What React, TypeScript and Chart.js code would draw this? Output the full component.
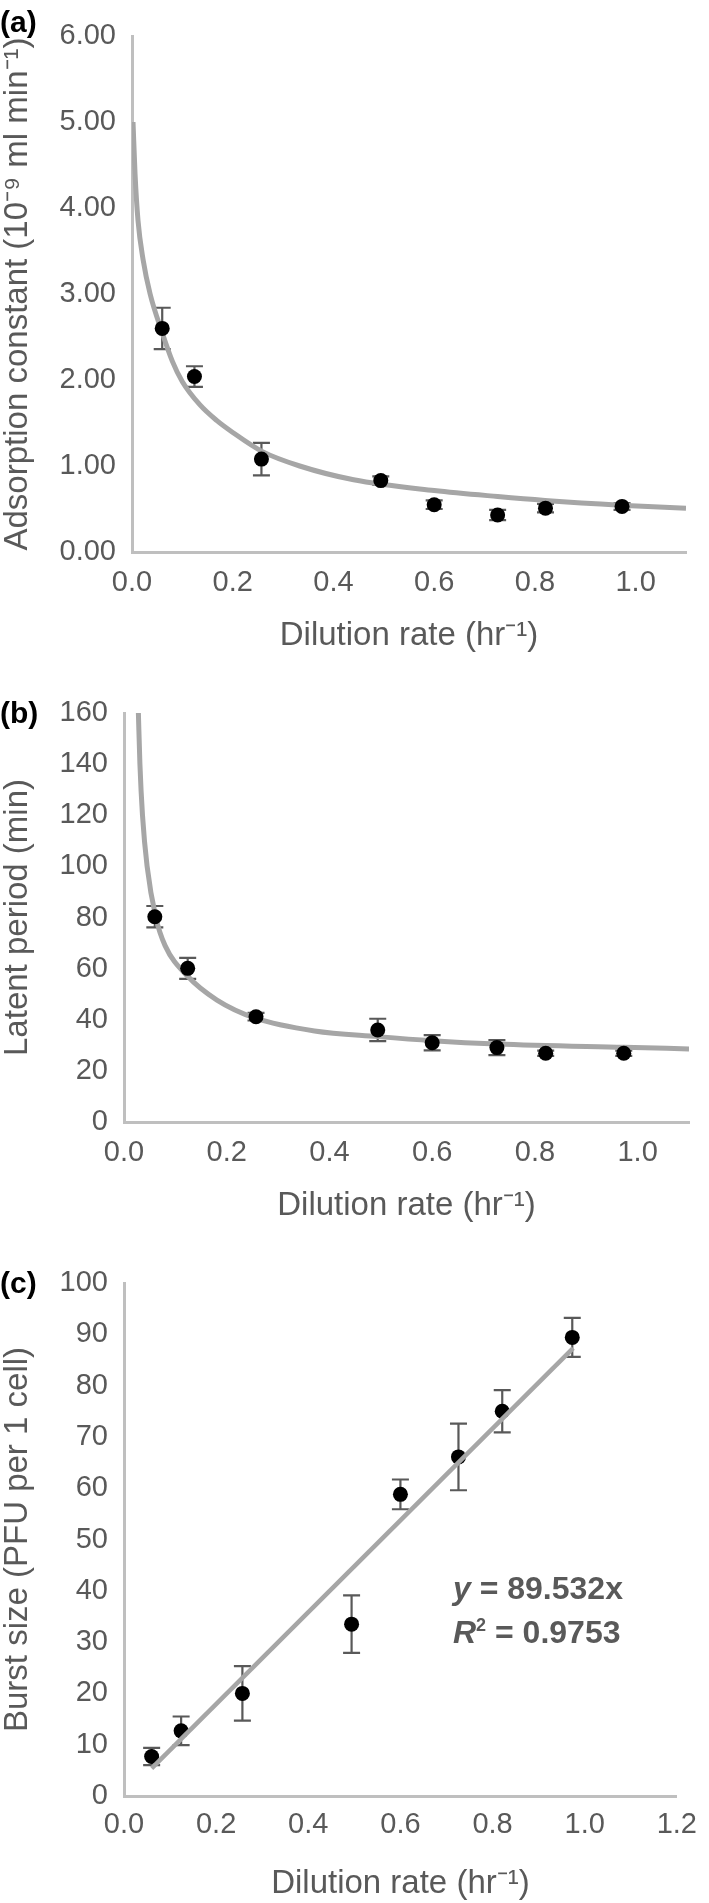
import React, { useEffect, useRef } from "react";
import { Chart, registerables } from "chart.js";

Chart.register(...registerables);

// ---------- data ----------
const dilution = [0.06, 0.124, 0.257, 0.494, 0.6, 0.726, 0.821, 0.973];

const adsorption = [2.6, 2.04, 1.08, 0.83, 0.55, 0.43, 0.51, 0.53];
const adsorptionErr = [0.24, 0.12, 0.19, 0.05, 0.05, 0.06, 0.05, 0.04];
const adsorptionFitX = [0.002, 0.006, 0.012, 0.022, 0.036, 0.06, 0.08, 0.1, 0.135, 0.168, 0.2, 0.258, 0.333, 0.44, 0.6, 0.726, 0.82, 0.97, 1.1];
const adsorptionFitY = [5.0, 4.4, 3.85, 3.4, 3.0, 2.55, 2.22, 1.98, 1.71, 1.53, 1.39, 1.17, 1.0, 0.84, 0.715, 0.645, 0.6, 0.545, 0.51];

const latent = [80.3, 60.1, 41.2, 36.0, 31.0, 29.1, 26.9, 26.9];
const latentErr = [4.2, 4.1, 1.5, 4.4, 3.0, 2.9, 1.0, 1.0];
const latentFitX = [0.028, 0.031, 0.036, 0.045, 0.062, 0.08, 0.124, 0.181, 0.256, 0.371, 0.494, 0.6, 0.726, 0.973, 1.1];
const latentFitY = [160, 140, 120, 100, 80, 69, 57, 47.7, 40.6, 35.6, 33.4, 31.8, 30.5, 29.2, 28.6];

const burst = [7.7, 12.7, 20.0, 33.5, 58.8, 66.1, 75.0, 89.4];
const burstErr = [1.7, 2.8, 5.3, 5.6, 2.9, 6.5, 4.1, 3.8];
const burstFitX = [0.06, 0.975];
const burstFitY = [5.4, 87.3];

const panelLabels = ["(a)", "(b)", "(c)"];
const xTitle = "Dilution rate (hr\u207B\u00B9)";
const yTitles = [
  "Adsorption constant (10\u207B\u2079 ml min\u207B\u00B9)",
  "Latent period (min)",
  "Burst size (PFU per 1 cell)",
];
const equationLine1 = "89.532x";
const equationLine2 = "0.9753";

// ---------- styling ----------
const FONT = "'Liberation Sans', Arial, Helvetica, sans-serif";
const TEXT = "#595959";
const AXIS = "#bfbfbf";
const CURVE = "#a6a6a6";

const zip = (xs: number[], ys: number[]) => xs.map((x, i) => ({ x, y: ys[i] }));

const errorBarPlugin = {
  id: "errorBars",
  beforeDatasetsDraw(chart: any, _args: any, opts: any) {
    if (!opts || !opts.errors) return;
    const { ctx } = chart;
    const xs = chart.scales.x;
    const ys = chart.scales.y;
    const ds = chart.data.datasets[opts.datasetIndex];
    ctx.save();
    ctx.strokeStyle = TEXT;
    ctx.lineWidth = 2.2;
    const cap = 8.5;
    ds.data.forEach((p: any, i: number) => {
      const e = opts.errors[i];
      const px = xs.getPixelForValue(p.x);
      const top = ys.getPixelForValue(p.y + e);
      const bot = ys.getPixelForValue(p.y - e);
      ctx.beginPath();
      ctx.moveTo(px, top);
      ctx.lineTo(px, bot);
      ctx.moveTo(px - cap, top);
      ctx.lineTo(px + cap, top);
      ctx.moveTo(px - cap, bot);
      ctx.lineTo(px + cap, bot);
      ctx.stroke();
    });
    ctx.restore();
  },
};

type PanelCfg = {
  height: number;
  padTop: number;
  padRight: number;
  yWidth: number;
  xHeight: number;
  xMax: number;
  yMax: number;
  yStep: number;
  yDecimals: number;
  xTickPad: number;
  yTitle: string;
  values: number[];
  errors: number[];
  fitX: number[];
  fitY: number[];
  smooth: boolean;
  lineOnTop: boolean;
};

function buildConfig(c: PanelCfg): any {
  return {
    type: "scatter",
    data: {
      datasets: [
        {
          label: "data",
          data: zip(dilution, c.values),
          pointRadius: 7.5,
          pointHoverRadius: 7.5,
          pointBackgroundColor: "#000000",
          pointBorderWidth: 0,
          showLine: false,
          order: c.lineOnTop ? 1 : 0,
        },
        {
          label: "fit",
          data: zip(c.fitX, c.fitY),
          showLine: true,
          borderColor: CURVE,
          borderWidth: c.smooth ? 5 : 4.5,
          pointRadius: 0,
          pointHoverRadius: 0,
          fill: false,
          cubicInterpolationMode: c.smooth ? "monotone" : "default",
          tension: 0,
          order: c.lineOnTop ? 0 : 1,
        },
      ],
    },
    options: {
      responsive: false,
      animation: false,
      events: [],
      layout: { padding: { top: c.padTop, left: 1, right: c.padRight, bottom: 0 } },
      plugins: {
        legend: { display: false },
        tooltip: { enabled: false },
        errorBars: { datasetIndex: 0, errors: c.errors },
      },
      scales: {
        x: {
          type: "linear",
          min: 0,
          max: c.xMax,
          grid: { display: false, drawTicks: false },
          border: { display: true, color: AXIS, width: 3 },
          ticks: {
            stepSize: 0.2,
            includeBounds: false,
            autoSkip: false,
            maxRotation: 0,
            padding: c.xTickPad,
            color: TEXT,
            font: { family: FONT, size: 29 },
            callback: (v: any) => Number(v).toFixed(1),
          },
          title: {
            display: true,
            text: xTitle,
            color: TEXT,
            font: { family: FONT, size: 33, lineHeight: 1 },
            padding: 0,
          },
          afterFit: (s: any) => {
            s.height = c.xHeight;
          },
        },
        y: {
          type: "linear",
          min: 0,
          max: c.yMax,
          grid: { display: false, drawTicks: false },
          border: { display: true, color: AXIS, width: 3 },
          ticks: {
            stepSize: c.yStep,
            autoSkip: false,
            padding: 16,
            color: TEXT,
            font: { family: FONT, size: 29 },
            callback: (v: any) => Number(v).toFixed(c.yDecimals),
          },
          title: {
            display: true,
            text: c.yTitle,
            color: TEXT,
            font: { family: FONT, size: 33, lineHeight: 1 },
            padding: 0,
          },
          afterFit: (s: any) => {
            s.width = c.yWidth;
          },
        },
      },
    },
    plugins: [errorBarPlugin],
  };
}

const panels: { top: number; cfg: PanelCfg }[] = [
  {
    top: 0,
    cfg: {
      height: 652, padTop: 36, padRight: 23, yWidth: 131, xHeight: 100,
      xMax: 1.1, yMax: 6, yStep: 1, yDecimals: 2, xTickPad: 14,
      yTitle: yTitles[0], values: adsorption, errors: adsorptionErr,
      fitX: adsorptionFitX, fitY: adsorptionFitY, smooth: true, lineOnTop: false,
    },
  },
  {
    top: 660,
    cfg: {
      height: 562, padTop: 53, padRight: 20, yWidth: 123, xHeight: 100,
      xMax: 1.1, yMax: 160, yStep: 20, yDecimals: 0, xTickPad: 14,
      yTitle: yTitles[1], values: latent, errors: latentErr,
      fitX: latentFitX, fitY: latentFitY, smooth: true, lineOnTop: false,
    },
  },
  {
    top: 1230,
    cfg: {
      height: 670, padTop: 53, padRight: 20, yWidth: 123, xHeight: 104,
      xMax: 1.2, yMax: 100, yStep: 10, yDecimals: 0, xTickPad: 12,
      yTitle: yTitles[2], values: burst, errors: burstErr,
      fitX: burstFitX, fitY: burstFitY, smooth: false, lineOnTop: true,
    },
  },
];

const labelTops = [7, 698, 1268];

function Panel({ top, cfg }: { top: number; cfg: PanelCfg }) {
  const ref = useRef<HTMLCanvasElement | null>(null);
  useEffect(() => {
    if (!ref.current) return;
    const chart = new Chart(ref.current, buildConfig(cfg));
    return () => chart.destroy();
  }, []);
  return (
    <canvas
      ref={ref}
      width={709}
      height={cfg.height}
      style={{ position: "absolute", left: 0, top, width: 709, height: cfg.height }}
    />
  );
}

export default function App() {
  useEffect(() => {
    document.body.style.margin = "0";
  }, []);
  return (
    <div style={{ position: "relative", width: 709, height: 1903, background: "#fff", overflow: "hidden" }}>
      {panels.map((p, i) => (
        <Panel key={i} top={p.top} cfg={p.cfg} />
      ))}
      {panelLabels.map((t, i) => (
        <div
          key={t}
          style={{
            position: "absolute",
            left: 0,
            top: labelTops[i],
            fontFamily: FONT,
            fontWeight: "bold",
            fontSize: 30,
            lineHeight: "30px",
            color: "#000",
          }}
        >
          {t}
        </div>
      ))}
      <div
        style={{
          position: "absolute",
          left: 453,
          top: 1570,
          fontFamily: FONT,
          fontWeight: "bold",
          fontSize: 32,
          lineHeight: "37px",
          color: TEXT,
          whiteSpace: "nowrap",
        }}
      >
        <div>
          <i>y</i> = {equationLine1}
        </div>
        <div>
          <i>R</i>
          <span style={{ fontSize: 18, verticalAlign: "12px" }}>2</span> = {equationLine2}
        </div>
      </div>
    </div>
  );
}
